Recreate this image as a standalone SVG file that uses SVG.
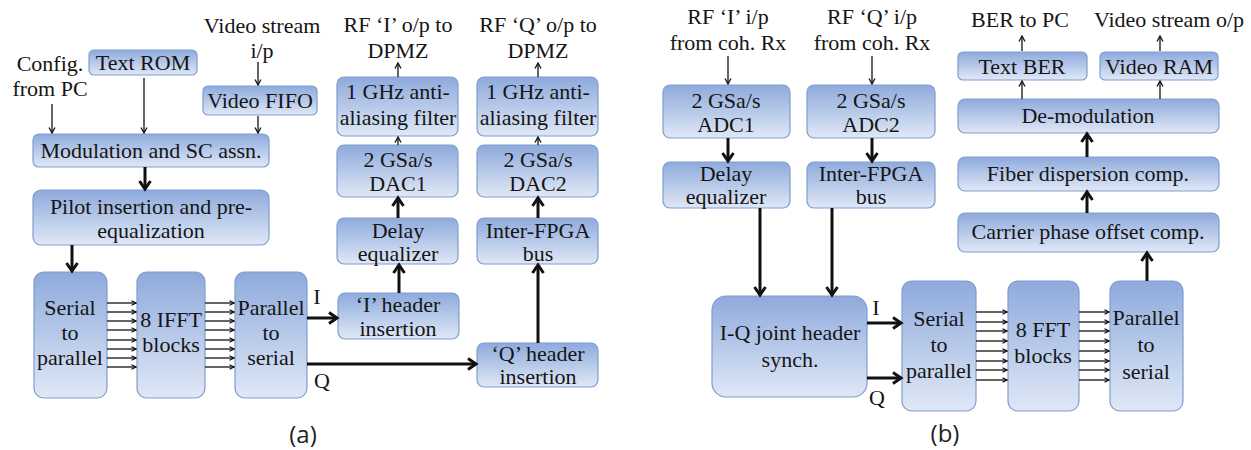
<svg xmlns="http://www.w3.org/2000/svg" width="1251" height="450" viewBox="0 0 1251 450">
  <style>
    text { font-family: "Liberation Serif", "Times New Roman", serif; font-size: 22px; fill: #151515; text-anchor: middle; }
    .cap { font-family: "Open Sans", "Liberation Sans", sans-serif; font-size: 24px; fill: #222; }
    .box { fill: url(#boxFill); stroke: #7f9dcf; stroke-width: 1.2; }
    .thin { stroke: #111; stroke-width: 1.3; fill: none; marker-end: url(#headThin); }
    .tiny { stroke: #111; stroke-width: 1.3; fill: none; marker-end: url(#headTiny); }
    .thick { stroke: #111; stroke-width: 3; fill: none; marker-end: url(#headThick); }
  </style>
  <defs>
    <linearGradient id="boxFill" x1="0" y1="0" x2="0" y2="1">
      <stop offset="0" stop-color="#8eaadc"/>
      <stop offset="1" stop-color="#e0e8f6"/>
    </linearGradient>
    <marker id="headThin" markerUnits="userSpaceOnUse" viewBox="0 0 8 8" refX="7" refY="4" markerWidth="8" markerHeight="8" orient="auto">
      <path d="M1.5,1 L7,4 L1.5,7" fill="none" stroke="#111" stroke-width="1.3"/>
    </marker>
    <marker id="headTiny" markerUnits="userSpaceOnUse" viewBox="0 0 6 6" refX="5.5" refY="3" markerWidth="6" markerHeight="6" orient="auto">
      <path d="M1,0.8 L5.5,3 L1,5.2" fill="none" stroke="#111" stroke-width="1.2"/>
    </marker>
    <marker id="headThick" markerUnits="userSpaceOnUse" viewBox="0 0 14 14" refX="11" refY="7" markerWidth="14" markerHeight="14" orient="auto">
      <path d="M3,1.5 L11,7 L3,12.5" fill="none" stroke="#111" stroke-width="3"/>
    </marker>
  </defs>

  <!-- transmitter (a): free labels -->
  <g id="tx-labels">
    <text x="50" y="71">Config.</text>
    <text x="50" y="96">from PC</text>
    <text x="262" y="33">Video stream</text>
    <text x="262" y="58">i/p</text>
    <text x="398" y="32">RF ‘I’ o/p to</text>
    <text x="398" y="58">DPMZ</text>
    <text x="538" y="32">RF ‘Q’ o/p to</text>
    <text x="538" y="58">DPMZ</text>
    <text x="317" y="304">I</text>
    <text x="322" y="388">Q</text>
    <text class="cap" x="303" y="443">(a)</text>
  </g>

  <g id="text-rom"><rect class="box" x="89" y="50" width="108" height="25" rx="5"/><text x="143" y="70">Text ROM</text></g>
  <g id="video-fifo"><rect class="box" x="203" y="86" width="114" height="29" rx="5"/><text x="260" y="108">Video FIFO</text></g>
  <g id="modulation"><rect class="box" x="33" y="134" width="236" height="33" rx="6"/><text x="151" y="158">Modulation and SC assn.</text></g>
  <g id="pilot"><rect class="box" x="33" y="190" width="236" height="55" rx="8"/><text x="151" y="214">Pilot insertion and pre-</text><text x="151" y="238">equalization</text></g>
  <g id="tx-s2p"><rect class="box" x="34" y="272" width="73" height="126" rx="10"/><text x="70" y="315">Serial</text><text x="70" y="340">to</text><text x="70" y="365">parallel</text></g>
  <g id="ifft"><rect class="box" x="137" y="272" width="68" height="126" rx="10"/><text x="171" y="327">8 IFFT</text><text x="171" y="352">blocks</text></g>
  <g id="tx-p2s"><rect class="box" x="235" y="272" width="72" height="126" rx="10"/><text x="271" y="315">Parallel</text><text x="271" y="340">to</text><text x="271" y="365">serial</text></g>
  <g id="i-header"><rect class="box" x="338" y="293" width="121" height="46" rx="7"/><text x="398" y="312">‘I’ header</text><text x="398" y="336">insertion</text></g>
  <g id="tx-delay"><rect class="box" x="337" y="218" width="121" height="46" rx="7"/><text x="398" y="238">Delay</text><text x="398" y="261">equalizer</text></g>
  <g id="dac1"><rect class="box" x="337" y="145" width="121" height="52" rx="7"/><text x="398" y="167">2 GSa/s</text><text x="398" y="191">DAC1</text></g>
  <g id="filter-i"><rect class="box" x="337" y="77" width="121" height="59" rx="7"/><text x="398" y="99">1 GHz anti-</text><text x="398" y="125">aliasing filter</text></g>
  <g id="q-header"><rect class="box" x="477" y="343" width="121" height="44" rx="7"/><text x="538" y="361">‘Q’ header</text><text x="538" y="384">insertion</text></g>
  <g id="tx-bus"><rect class="box" x="477" y="218" width="121" height="46" rx="7"/><text x="538" y="238">Inter-FPGA</text><text x="538" y="261">bus</text></g>
  <g id="dac2"><rect class="box" x="477" y="145" width="121" height="52" rx="7"/><text x="538" y="167">2 GSa/s</text><text x="538" y="191">DAC2</text></g>
  <g id="filter-q"><rect class="box" x="477" y="77" width="121" height="59" rx="7"/><text x="538" y="99">1 GHz anti-</text><text x="538" y="125">aliasing filter</text></g>

  <!-- receiver (b): free labels -->
  <g id="rx-labels">
    <text x="728" y="24">RF ‘I’ i/p</text>
    <text x="728" y="50">from coh. Rx</text>
    <text x="872" y="24">RF ‘Q’ i/p</text>
    <text x="872" y="50">from coh. Rx</text>
    <text x="1020" y="27">BER to PC</text>
    <text x="1169" y="27">Video stream o/p</text>
    <text x="876" y="315">I</text>
    <text x="877" y="405">Q</text>
    <text class="cap" x="945" y="442">(b)</text>
  </g>

  <g id="adc1"><rect class="box" x="663" y="85" width="127" height="53" rx="7"/><text x="726" y="108">2 GSa/s</text><text x="726" y="132">ADC1</text></g>
  <g id="rx-delay"><rect class="box" x="663" y="162" width="127" height="46" rx="7"/><text x="726" y="181">Delay</text><text x="726" y="204">equalizer</text></g>
  <g id="adc2"><rect class="box" x="807" y="85" width="128" height="53" rx="7"/><text x="871" y="108">2 GSa/s</text><text x="871" y="132">ADC2</text></g>
  <g id="rx-bus"><rect class="box" x="807" y="162" width="128" height="46" rx="7"/><text x="871" y="181">Inter-FPGA</text><text x="871" y="204">bus</text></g>
  <g id="iq-sync"><rect class="box" x="712" y="296" width="155" height="101" rx="14"/><text x="790" y="340">I-Q joint header</text><text x="790" y="367">synch.</text></g>
  <g id="rx-s2p"><rect class="box" x="902" y="281" width="74" height="130" rx="10"/><text x="939" y="326">Serial</text><text x="939" y="352">to</text><text x="939" y="378">parallel</text></g>
  <g id="fft"><rect class="box" x="1008" y="281" width="71" height="130" rx="10"/><text x="1043" y="337">8 FFT</text><text x="1043" y="363">blocks</text></g>
  <g id="rx-p2s"><rect class="box" x="1110" y="281" width="73" height="130" rx="10"/><text x="1146" y="325">Parallel</text><text x="1146" y="352">to</text><text x="1146" y="379">serial</text></g>
  <g id="carrier"><rect class="box" x="958" y="213" width="261" height="39" rx="7"/><text x="1088" y="239">Carrier phase offset comp.</text></g>
  <g id="fiber"><rect class="box" x="958" y="157" width="261" height="34" rx="7"/><text x="1088" y="181">Fiber dispersion comp.</text></g>
  <g id="demod"><rect class="box" x="958" y="99" width="261" height="34" rx="7"/><text x="1088" y="123">De-modulation</text></g>
  <g id="text-ber"><rect class="box" x="958" y="52" width="129" height="28" rx="5"/><text x="1022" y="74">Text BER</text></g>
  <g id="video-ram"><rect class="box" x="1100" y="52" width="118" height="28" rx="5"/><text x="1159" y="74">Video RAM</text></g>

  <g id="connectors">
    <!-- (a) -->
    <line class="thin" x1="52" y1="104" x2="52" y2="133"/>
    <line class="thin" x1="144" y1="78" x2="144" y2="133"/>
    <line class="thin" x1="258" y1="62" x2="258" y2="85"/>
    <line class="thin" x1="258" y1="116" x2="258" y2="133"/>
    <line class="thick" x1="145" y1="167" x2="145" y2="189"/>
    <line class="thick" x1="72" y1="245" x2="72" y2="271"/>
    <g class="tiny-set">
      <line class="tiny" x1="107" y1="303" x2="136" y2="303"/>
      <line class="tiny" x1="107" y1="312" x2="136" y2="312"/>
      <line class="tiny" x1="107" y1="321" x2="136" y2="321"/>
      <line class="tiny" x1="107" y1="330" x2="136" y2="330"/>
      <line class="tiny" x1="107" y1="340" x2="136" y2="340"/>
      <line class="tiny" x1="107" y1="349" x2="136" y2="349"/>
      <line class="tiny" x1="107" y1="358" x2="136" y2="358"/>
      <line class="tiny" x1="107" y1="367" x2="136" y2="367"/>
      <line class="tiny" x1="205" y1="303" x2="234" y2="303"/>
      <line class="tiny" x1="205" y1="312" x2="234" y2="312"/>
      <line class="tiny" x1="205" y1="321" x2="234" y2="321"/>
      <line class="tiny" x1="205" y1="330" x2="234" y2="330"/>
      <line class="tiny" x1="205" y1="340" x2="234" y2="340"/>
      <line class="tiny" x1="205" y1="349" x2="234" y2="349"/>
      <line class="tiny" x1="205" y1="358" x2="234" y2="358"/>
      <line class="tiny" x1="205" y1="367" x2="234" y2="367"/>
    </g>
    <line class="thick" x1="307" y1="318" x2="337" y2="318"/>
    <line class="thick" x1="307" y1="364" x2="476" y2="364"/>
    <line class="thick" x1="399" y1="293" x2="399" y2="265"/>
    <line class="thick" x1="398" y1="218" x2="398" y2="198"/>
    <line class="thin" x1="398" y1="145" x2="398" y2="137"/>
    <line class="thin" x1="398" y1="77" x2="398" y2="63"/>
    <line class="thick" x1="538" y1="343" x2="538" y2="265"/>
    <line class="thick" x1="538" y1="218" x2="538" y2="198"/>
    <line class="thin" x1="538" y1="145" x2="538" y2="137"/>
    <line class="thin" x1="538" y1="77" x2="538" y2="63"/>
    <!-- (b) -->
    <line class="thin" x1="728" y1="56" x2="728" y2="84"/>
    <line class="thin" x1="872" y1="56" x2="872" y2="84"/>
    <line class="thick" x1="728" y1="138" x2="728" y2="161"/>
    <line class="thick" x1="872" y1="138" x2="872" y2="161"/>
    <line class="thick" x1="760" y1="208" x2="760" y2="295"/>
    <line class="thick" x1="832" y1="208" x2="832" y2="295"/>
    <line class="thick" x1="867" y1="323" x2="901" y2="323"/>
    <line class="thick" x1="867" y1="378" x2="901" y2="378"/>
    <g class="tiny-set">
      <line class="tiny" x1="976" y1="312" x2="1007" y2="312"/>
      <line class="tiny" x1="976" y1="322" x2="1007" y2="322"/>
      <line class="tiny" x1="976" y1="331" x2="1007" y2="331"/>
      <line class="tiny" x1="976" y1="341" x2="1007" y2="341"/>
      <line class="tiny" x1="976" y1="351" x2="1007" y2="351"/>
      <line class="tiny" x1="976" y1="361" x2="1007" y2="361"/>
      <line class="tiny" x1="976" y1="370" x2="1007" y2="370"/>
      <line class="tiny" x1="976" y1="380" x2="1007" y2="380"/>
      <line class="tiny" x1="1079" y1="312" x2="1109" y2="312"/>
      <line class="tiny" x1="1079" y1="322" x2="1109" y2="322"/>
      <line class="tiny" x1="1079" y1="331" x2="1109" y2="331"/>
      <line class="tiny" x1="1079" y1="341" x2="1109" y2="341"/>
      <line class="tiny" x1="1079" y1="351" x2="1109" y2="351"/>
      <line class="tiny" x1="1079" y1="361" x2="1109" y2="361"/>
      <line class="tiny" x1="1079" y1="370" x2="1109" y2="370"/>
      <line class="tiny" x1="1079" y1="380" x2="1109" y2="380"/>
    </g>
    <line class="thick" x1="1147" y1="281" x2="1147" y2="253"/>
    <line class="thick" x1="1087" y1="213" x2="1087" y2="192"/>
    <line class="thick" x1="1087" y1="157" x2="1087" y2="134"/>
    <line class="thin" x1="1022" y1="99" x2="1022" y2="81"/>
    <line class="thin" x1="1160" y1="99" x2="1160" y2="81"/>
    <line class="thin" x1="1022" y1="51" x2="1022" y2="36"/>
    <line class="thin" x1="1160" y1="51" x2="1160" y2="36"/>
  </g>
</svg>
